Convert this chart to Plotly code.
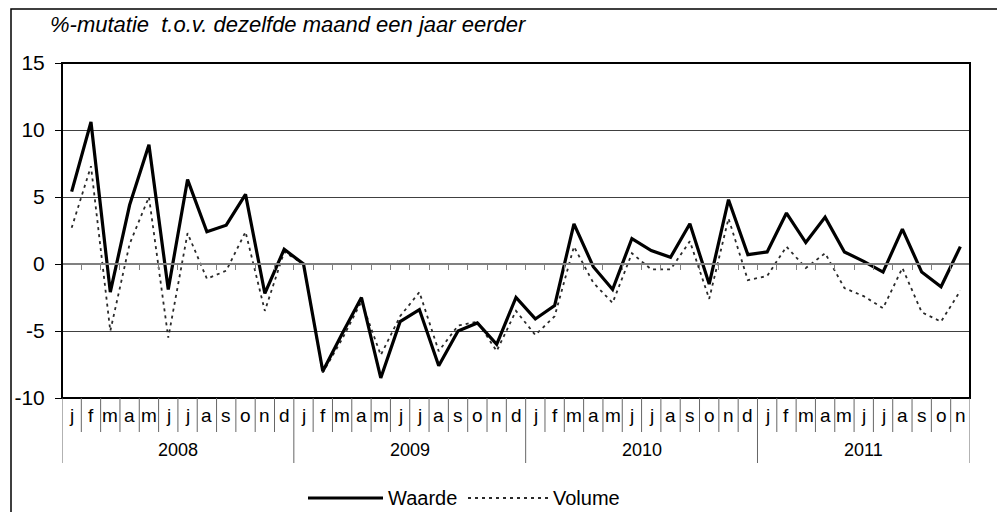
import plotly.graph_objects as go

months = ["j","f","m","a","m","j","j","a","s","o","n","d"] * 3 + ["j","f","m","a","m","j","j","a","s","o","n"]
years = ["2008", "2009", "2010", "2011"]
year_lengths = [12, 12, 12, 11]
y_tick_values = [-10, -5, 0, 5, 10, 15]
y_tick_labels = ["-10", "-5", "0", "5", "10", "15"]

waarde = [5.4, 10.6, -2.1, 4.4, 8.9, -1.9, 6.3, 2.4, 2.9, 5.2, -2.2, 1.1,
          0.0, -8.0, -5.2, -2.5, -8.5, -4.3, -3.4, -7.6, -5.0, -4.4, -6.0, -2.5,
          -4.1, -3.1, 3.0, -0.2, -1.9, 1.9, 1.0, 0.5, 3.0, -1.5, 4.8, 0.7,
          0.9, 3.8, 1.6, 3.5, 0.9, 0.2, -0.6, 2.6, -0.6, -1.7, 1.3]
volume = [2.7, 7.3, -5.0, 1.5, 5.0, -5.5, 2.3, -1.1, -0.5, 2.4, -3.5, 0.9,
          0.0, -8.1, -5.6, -2.8, -6.8, -3.9, -2.1, -6.5, -4.6, -4.3, -6.5, -3.5,
          -5.3, -3.9, 1.3, -1.4, -2.9, 0.8, -0.4, -0.4, 1.7, -2.6, 3.4, -1.2,
          -0.9, 1.3, -0.3, 0.8, -1.8, -2.4, -3.3, -0.3, -3.6, -4.3, -2.0]

n = len(months)
x = [i + 0.5 for i in range(n)]

# page body has an 8px margin; keep the figure inside the window (no scrollbars)
OX, OY = 8, 8
W, H = 989, 504
pw, ph = 908, 335
ml, mt = 62 - OX, 63 - OY
mr = W - ml - pw
mb = H - mt - ph

def px(xs):
    return (xs - OX - ml) / pw

def py(ys):
    return (mt + ph - (ys - OY)) / ph

FONT = "Liberation Sans, Arial, sans-serif"
VOL_LINE = dict(color="#2a2a2a", width=1.8, dash="3px,4px")
WAA_LINE = dict(color="black", width=3.2)

fig = go.Figure()
fig.add_trace(go.Scatter(x=x, y=volume, mode="lines", name="Volume",
                         line=VOL_LINE, showlegend=False))
fig.add_trace(go.Scatter(x=x, y=waarde, mode="lines", name="Waarde",
                         line=WAA_LINE, showlegend=False))

shapes = []
# outer frame (right and bottom edges lie outside the figure)
shapes.append(dict(type="rect", xref="paper", yref="paper",
                   x0=px(11), x1=px(1030), y0=py(540), y1=py(9),
                   line=dict(color="black", width=1.5), layer="below"))
# plot border
shapes.append(dict(type="rect", xref="paper", yref="paper", x0=0, x1=1, y0=0, y1=1,
                   line=dict(color="black", width=2), layer="above"))
# month / year separators
year_bounds = [0]
for L in year_lengths:
    year_bounds.append(year_bounds[-1] + L)
for b in range(0, n + 1):
    long = b in year_bounds
    shapes.append(dict(type="line", xref="x", yref="paper", x0=b, x1=b,
                       y0=py(463) if long else py(432), y1=0,
                       line=dict(color="#666666", width=1)))
# legend lines
shapes.append(dict(type="line", xref="paper", yref="paper", x0=px(308), x1=px(383),
                   y0=py(498), y1=py(498), line=WAA_LINE))
shapes.append(dict(type="line", xref="paper", yref="paper", x0=px(468), x1=px(550),
                   y0=py(498), y1=py(498), line=VOL_LINE))

annotations = []
annotations.append(dict(text="%-mutatie  t.o.v. dezelfde maand een jaar eerder",
                        xref="paper", yref="paper", x=px(48), y=py(25),
                        xanchor="left", yanchor="middle", showarrow=False,
                        font=dict(family=FONT, size=22, color="black", style="italic")))
for i, m in enumerate(months):
    annotations.append(dict(text=m, xref="x", yref="paper", x=i + 0.5, y=py(416),
                            xanchor="center", yanchor="middle", showarrow=False,
                            font=dict(family=FONT, size=19, color="black")))
for k, yr in enumerate(years):
    c = (year_bounds[k] + year_bounds[k + 1]) / 2
    annotations.append(dict(text=yr, xref="x", yref="paper", x=c, y=py(450),
                            xanchor="center", yanchor="middle", showarrow=False,
                            font=dict(family=FONT, size=18, color="black")))
annotations.append(dict(text="Waarde", xref="paper", yref="paper", x=px(386), y=py(498),
                        xanchor="left", yanchor="middle", showarrow=False,
                        font=dict(family=FONT, size=20, color="black")))
annotations.append(dict(text="Volume", xref="paper", yref="paper", x=px(551), y=py(498),
                        xanchor="left", yanchor="middle", showarrow=False,
                        font=dict(family=FONT, size=20, color="black")))

fig.update_layout(
    width=W, height=H,
    margin=dict(l=ml, r=mr, t=mt, b=mb, pad=0, autoexpand=False),
    paper_bgcolor="white", plot_bgcolor="white",
    showlegend=False,
    shapes=shapes, annotations=annotations,
    xaxis=dict(range=[0, n], anchor="free", position=0.4, automargin=False,
               tickvals=list(range(1, n)), ticks="outside", ticklen=5,
               tickcolor="#808080", tickwidth=1, showticklabels=False,
               showline=True, linecolor="#808080", linewidth=2,
               showgrid=False, zeroline=False, fixedrange=True),
    yaxis=dict(range=[-10, 15], tickvals=y_tick_values, ticktext=y_tick_labels,
               automargin=False,
               ticks="outside", ticklen=6, tickcolor="black",
               showline=False, showgrid=True, gridcolor="#404040", gridwidth=1,
               zeroline=False, tickfont=dict(family=FONT, size=21, color="black"),
               ticklabelstandoff=6),
)

fig.write_html("out.html")
